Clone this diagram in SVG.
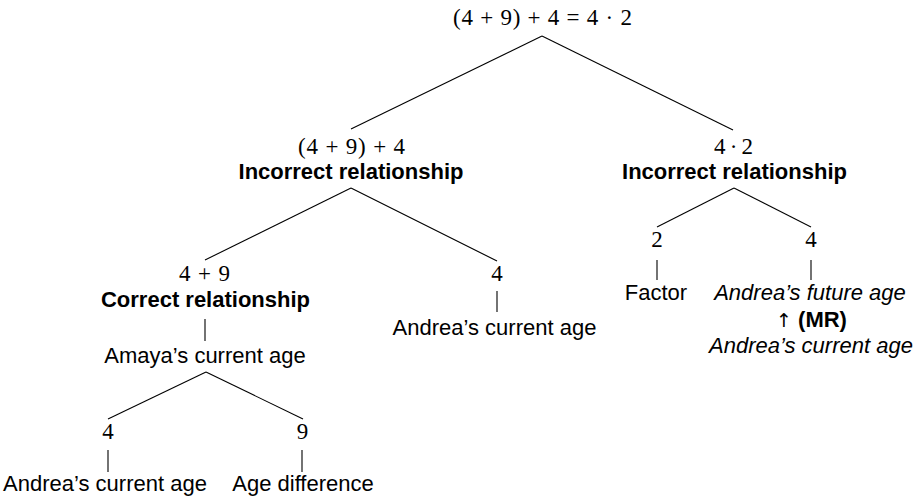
<svg xmlns="http://www.w3.org/2000/svg" width="921" height="500" viewBox="0 0 921 500">
<style>
.m{font-family:"Liberation Serif","DejaVu Serif",serif;font-size:23px;fill:#000;text-anchor:middle}
.t{font-family:"Liberation Sans",Arial,sans-serif;font-size:22px;fill:#000;text-anchor:middle}
.b{font-weight:bold}
.i{font-style:italic}
.e{stroke:#000;stroke-width:1.1;fill:none}
</style>
<rect width="921" height="500" fill="#fff"/>
<g id="connectors">
<line class="e" x1="542" y1="36" x2="351" y2="129"/>
<line class="e" x1="542" y1="36" x2="733" y2="130"/>
<line class="e" x1="351" y1="188" x2="205" y2="260"/>
<line class="e" x1="351" y1="188" x2="497" y2="261"/>
<line class="e" x1="734" y1="188" x2="657" y2="227"/>
<line class="e" x1="734" y1="188" x2="811" y2="227"/>
<line class="e" x1="206" y1="372" x2="108" y2="419"/>
<line class="e" x1="206" y1="372" x2="303" y2="419"/>
<line class="e" x1="205" y1="319" x2="205" y2="341"/>
<line class="e" x1="497" y1="291" x2="497" y2="312"/>
<line class="e" x1="657" y1="260" x2="657" y2="280"/>
<line class="e" x1="811" y1="260" x2="811" y2="280"/>
<line class="e" x1="108" y1="450" x2="108" y2="472"/>
<line class="e" x1="302" y1="450" x2="302" y2="472"/>
</g>
<g id="root">
<text class="m" x="542.5" y="25" textLength="179" lengthAdjust="spacing">(4 + 9) + 4 = 4 · 2</text>
</g>
<g id="left">
<text class="m" x="351.5" y="154" textLength="107" lengthAdjust="spacing">(4 + 9) + 4</text>
<text class="t b" x="351" y="179">Incorrect relationship</text>
</g>
<g id="right">
<text class="m" x="733.5" y="154" textLength="39" lengthAdjust="spacing">4 · 2</text>
<text class="t b" x="734.5" y="179">Incorrect relationship</text>
</g>
<g id="sum49">
<text class="m" x="204.5" y="281" textLength="51" lengthAdjust="spacing">4 + 9</text>
<text class="t b" x="205.5" y="307">Correct relationship</text>
</g>
<g id="amaya">
<text class="t" x="205" y="363">Amaya’s current age</text>
</g>
<g id="four-mid">
<text class="m" x="497" y="281">4</text>
</g>
<g id="andrea-mid">
<text class="t" x="494.5" y="335">Andrea’s current age</text>
</g>
<g id="two">
<text class="m" x="657" y="247">2</text>
</g>
<g id="factor">
<text class="t" x="656" y="300">Factor</text>
</g>
<g id="four-right">
<text class="m" x="811" y="247">4</text>
</g>
<g id="andrea-future">
<text class="t i" x="810" y="300">Andrea’s future age</text>
<text class="t" x="811.5" y="327"><tspan font-family="DejaVu Sans, sans-serif" font-size="19">↑</tspan> <tspan class="b">(MR)</tspan></text>
<text class="t i" x="811" y="353">Andrea’s current age</text>
</g>
<g id="four-bottom">
<text class="m" x="108" y="439">4</text>
</g>
<g id="andrea-bottom">
<text class="t" x="105" y="491">Andrea’s current age</text>
</g>
<g id="nine">
<text class="m" x="302.5" y="439">9</text>
</g>
<g id="agediff">
<text class="t" x="303" y="491">Age difference</text>
</g>
</svg>
